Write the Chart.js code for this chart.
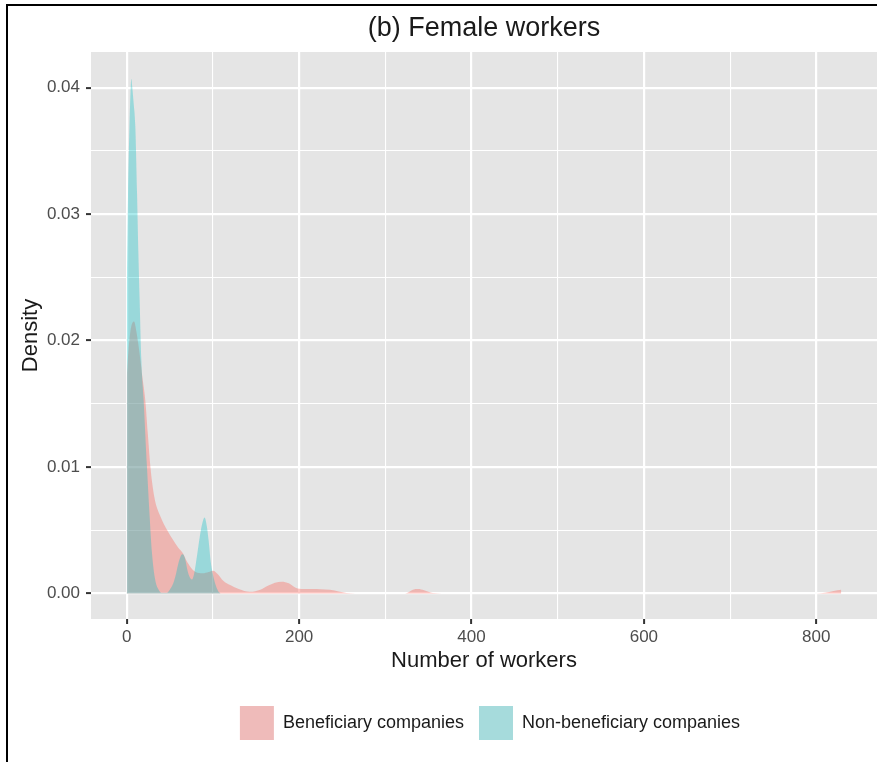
<!DOCTYPE html>
<html>
<head>
<meta charset="utf-8">
<script src="https://cdn.jsdelivr.net/npm/chart.js@4/dist/chart.umd.min.js"></script>
<style>
  html, body { margin: 0; padding: 0; background: #ffffff; }
  #wrap { position: relative; width: 877px; height: 762px; overflow: hidden; }
  #plot { position: absolute; left: 0; top: 0; }
  #frame {
    position: absolute; left: 6px; top: 4px; right: -10px; bottom: -10px;
    border-top: 2px solid #000; border-left: 2px solid #000;
    pointer-events: none;
  }
</style>
</head>
<body>
<div id="wrap">
  <canvas id="plot" width="877" height="762"></canvas>
  <div id="frame"></div>
</div>
<script>
// Kernel density estimates of female workers per company
const beneficiaryX = [0, 2, 4, 6, 8.5, 11, 13.5, 16, 18, 21.5, 24.5, 27.5, 30, 33, 36, 39, 43, 47, 54, 60, 65, 70, 75, 80, 88, 95, 100, 106, 112, 120, 130, 143, 155, 165, 172, 180, 188, 196, 205, 215, 225, 236, 246, 255, 265, 323, 332, 338, 345, 355, 365, 800, 810, 820, 829];
const beneficiaryDensity = [0.0171, 0.0192, 0.0206, 0.0213, 0.0215, 0.0208, 0.0197, 0.0184, 0.0172, 0.0153, 0.0126, 0.0100, 0.0085, 0.0073, 0.0066, 0.0061, 0.0055, 0.0050, 0.0042, 0.0036, 0.0032, 0.0025, 0.0020, 0.0017, 0.0016, 0.0017, 0.0018, 0.0015, 0.0010, 0.00066, 0.00035, 0.00013, 0.0003, 0.00065, 0.00085, 0.00093, 0.0008, 0.00045, 0.00035, 0.00035, 0.00034, 0.0003, 0.00015, 0.00003, 0, 0, 0.0003, 0.00035, 0.00025, 0.00003, 0, 0, 0.00006, 0.0002, 0.0003];

const nonBeneficiaryX = [0, 1.5, 3, 4.3, 5.3, 6.5, 8, 10, 12, 13.5, 15, 17, 19.6, 23.5, 26.6, 29.3, 33, 37, 41, 46, 50, 54, 57, 60, 63, 65, 67.5, 70.6, 73, 75.6, 78, 82, 85, 87.5, 90.3, 93, 95, 97.5, 100, 103, 106, 109];
const nonBeneficiaryDensity = [0.0235, 0.0316, 0.0365, 0.0395, 0.0407, 0.0400, 0.0388, 0.0369, 0.0316, 0.0270, 0.0232, 0.0184, 0.0153, 0.0100, 0.0061, 0.0032, 0.0011, 0.0003, 0.00005, 0.00005, 0.0003, 0.0008, 0.0015, 0.0024, 0.0030, 0.0031, 0.0028, 0.0018, 0.0013, 0.0011, 0.0015, 0.0032, 0.0046, 0.0055, 0.0060, 0.0053, 0.0042, 0.0025, 0.0015, 0.0007, 0.0002, 0];

const seriesLabels = ['Beneficiary companies', 'Non-beneficiary companies'];
const xTickValues = [0, 100, 200, 300, 400, 500, 600, 700, 800];
const yTickValues = [0, 0.005, 0.01, 0.015, 0.02, 0.025, 0.03, 0.035, 0.04];

const fillColors = ['rgba(248,118,109,0.43)', 'rgba(0,191,196,0.33)'];
const swatchColors = ['#EFBBBA', '#A6DBDC'];
const FONT = "'Liberation Sans', Arial, Helvetica, sans-serif";

const toPoints = (xs, ys) => xs.map((x, i) => ({ x: x, y: ys[i] }));
const isMajorX = v => Math.round(v) % 200 === 0;
const isMajorY = v => Math.round(v / 0.005) % 2 === 0;

// grey panel behind the grid
const panelBackground = {
  id: 'panelBackground',
  beforeDraw(chart) {
    const { ctx, chartArea: a } = chart;
    ctx.save();
    ctx.fillStyle = '#E5E5E5';
    ctx.fillRect(a.left, a.top, a.right - a.left, a.bottom - a.top);
    ctx.restore();
  }
};

// legend sits a little right of the panel centre
const legendOffset = {
  id: 'legendOffset',
  afterLayout(chart) {
    const lg = chart.legend;
    if (lg) { lg.left += 6; lg.right += 6; }
  }
};

new Chart(document.getElementById('plot'), {
  type: 'line',
  data: {
    datasets: [
      {
        label: seriesLabels[0],
        data: toPoints(beneficiaryX, beneficiaryDensity),
        backgroundColor: fillColors[0],
        borderColor: 'rgba(0,0,0,0)',
        borderWidth: 0,
        fill: 'origin',
        pointRadius: 0,
        cubicInterpolationMode: 'monotone',
        order: 1
      },
      {
        label: seriesLabels[1],
        data: toPoints(nonBeneficiaryX, nonBeneficiaryDensity),
        backgroundColor: fillColors[1],
        borderColor: 'rgba(0,0,0,0)',
        borderWidth: 0,
        fill: 'origin',
        pointRadius: 0,
        cubicInterpolationMode: 'monotone',
        order: 0
      }
    ]
  },
  options: {
    responsive: false,
    animation: false,
    devicePixelRatio: 1,
    layout: { padding: { left: 0, right: 0, top: 0, bottom: 12 } },
    plugins: {
      tooltip: { enabled: false },
      title: {
        display: true,
        text: '(b) Female workers',
        fullSize: false,
        color: '#1A1A1A',
        font: { family: FONT, size: 27, weight: 'normal', lineHeight: 1.2 },
        padding: { top: 12, bottom: 7.6 }
      },
      legend: {
        position: 'bottom',
        fullSize: false,
        labels: {
          boxWidth: 34,
          boxHeight: 34,
          padding: 15,
          color: '#1A1A1A',
          font: { family: FONT, size: 18 },
          generateLabels(chart) {
            return chart.data.datasets.map((ds, i) => ({
              text: ds.label,
              fillStyle: swatchColors[i],
              strokeStyle: 'rgba(0,0,0,0)',
              lineWidth: 0,
              fontColor: '#1A1A1A',
              hidden: !chart.isDatasetVisible(i),
              datasetIndex: i
            }));
          }
        }
      }
    },
    scales: {
      x: {
        type: 'linear',
        min: -41.45,
        max: 870.45,
        afterBuildTicks: s => { s.ticks = xTickValues.map(v => ({ value: v })); },
        afterFit: s => { s.height = 72; },
        ticks: {
          autoSkip: false,
          maxRotation: 0,
          padding: 3,
          color: '#4D4D4D',
          font: { family: FONT, size: 17 },
          callback: v => (isMajorX(v) ? String(v) : '')
        },
        grid: {
          color: '#FFFFFF',
          lineWidth: c => (isMajorX(c.tick.value) ? 2.2 : 1.1),
          tickLength: 5,
          tickWidth: 2,
          tickColor: c => (isMajorX(c.tick.value) ? '#333333' : 'rgba(0,0,0,0)')
        },
        border: { display: false },
        title: {
          display: true,
          text: 'Number of workers',
          color: '#1A1A1A',
          font: { family: FONT, size: 22, lineHeight: 1.2 },
          padding: { top: 0, bottom: 16.8 }
        }
      },
      y: {
        type: 'linear',
        min: -0.00202,
        max: 0.04282,
        afterBuildTicks: s => { s.ticks = yTickValues.map(v => ({ value: v })); },
        afterFit: s => { s.width = 91; },
        ticks: {
          autoSkip: false,
          padding: 6,
          color: '#4D4D4D',
          font: { family: FONT, size: 17 },
          callback: v => (isMajorY(v) ? v.toFixed(2) : '')
        },
        grid: {
          color: '#FFFFFF',
          lineWidth: c => (isMajorY(c.tick.value) ? 2.2 : 1.1),
          tickLength: 5,
          tickWidth: 2,
          tickColor: c => (isMajorY(c.tick.value) ? '#333333' : 'rgba(0,0,0,0)')
        },
        border: { display: false },
        title: {
          display: true,
          text: 'Density',
          color: '#1A1A1A',
          font: { family: FONT, size: 22, lineHeight: 1.2 },
          padding: { top: 18, bottom: 0 }
        }
      }
    }
  },
  plugins: [panelBackground, legendOffset]
});
</script>
</body>
</html>
